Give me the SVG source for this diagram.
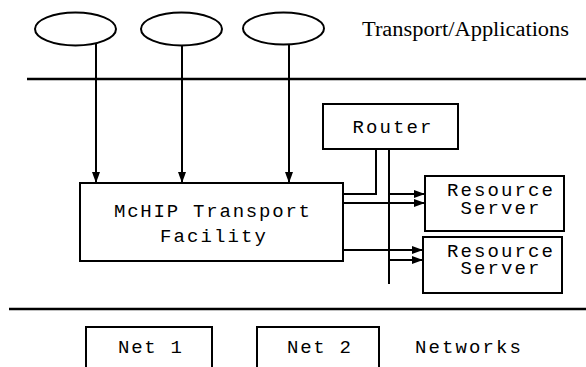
<svg xmlns="http://www.w3.org/2000/svg" width="586" height="367" viewBox="0 0 586 367">
  <defs>
    <style>
      .box { fill: #fff; stroke: #000; stroke-width: 2; }
      .app { fill: #fff; stroke: #000; stroke-width: 2; }
      .mono { font-family: "Liberation Mono", "Courier New", monospace; font-size: 19px; fill: #000; text-anchor: middle; }
      .serif { font-family: "Liberation Serif", "Times New Roman", serif; font-size: 20px; fill: #000; }
      .sep { stroke: #000; stroke-width: 2.5; }
      .wire { fill: none; stroke: #000; stroke-width: 2; }
      .arrow { fill: none; stroke: #000; stroke-width: 2; marker-end: url(#ah); }
    </style>
    <marker id="ah" markerWidth="11" markerHeight="8" refX="11" refY="4" orient="auto" markerUnits="userSpaceOnUse">
      <path d="M0,0 L11,4 L0,8 z" fill="#000"/>
    </marker>
  </defs>

  <rect width="586" height="367" fill="#fff"/>

  <!-- layer separators -->
  <g id="separators">
    <line class="sep" x1="27" y1="79" x2="586" y2="79"/>
    <line class="sep" x1="9" y1="309" x2="586" y2="309"/>
  </g>

  <!-- layer captions -->
  <text class="serif" x="362" y="36" textLength="207" lengthAdjust="spacingAndGlyphs">Transport/Applications</text>
  <text class="mono" x="468" y="353" textLength="106">Networks</text>

  <!-- applications -->
  <g id="app1"><ellipse class="app" cx="75.5" cy="29" rx="40.5" ry="16.5"/></g>
  <g id="app2"><ellipse class="app" cx="181.5" cy="29" rx="40.5" ry="16.5"/></g>
  <g id="app3"><ellipse class="app" cx="283.5" cy="28.5" rx="40.5" ry="16"/></g>

  <!-- transport facility -->
  <g id="mchip">
    <rect class="box" x="80" y="183" width="263" height="78"/>
    <text class="mono" x="212" y="217" textLength="196">McHIP Transport</text>
    <text class="mono" x="213" y="242" textLength="106">Facility</text>
  </g>

  <!-- router -->
  <g id="router">
    <rect class="box" x="323" y="104" width="135" height="45"/>
    <text class="mono" x="392" y="133" textLength="79">Router</text>
  </g>

  <!-- resource servers -->
  <g id="server1">
    <rect class="box" x="425" y="176" width="139" height="55"/>
    <text class="mono" x="500" y="196" textLength="106">Resource</text>
    <text class="mono" x="500" y="214" textLength="79">Server</text>
  </g>
  <g id="server2">
    <rect class="box" x="423" y="237" width="139" height="56"/>
    <text class="mono" x="500" y="257" textLength="106">Resource</text>
    <text class="mono" x="500" y="274" textLength="79">Server</text>
  </g>

  <!-- networks -->
  <g id="net1">
    <rect class="box" x="86" y="327" width="126" height="45"/>
    <text class="mono" x="150" y="353" textLength="64">Net 1</text>
  </g>
  <g id="net2">
    <rect class="box" x="257" y="327" width="122" height="45"/>
    <text class="mono" x="319" y="353" textLength="64">Net 2</text>
  </g>

  <!-- connectors -->
  <g id="connectors">
    <line class="arrow" x1="96" y1="44" x2="96" y2="183"/>
    <line class="arrow" x1="182" y1="45.5" x2="182" y2="183"/>
    <line class="arrow" x1="289" y1="44.5" x2="289" y2="183"/>

    <polyline class="wire" points="376,149 376,194 343,194"/>
    <line class="wire" x1="389" y1="149" x2="389" y2="284" stroke-width="1.6"/>

    <line class="arrow" x1="389" y1="194" x2="425" y2="194"/>
    <line class="arrow" x1="343" y1="203" x2="425" y2="203"/>
    <line class="arrow" x1="343" y1="250" x2="423" y2="250"/>
    <line class="arrow" x1="389" y1="260" x2="423" y2="260"/>
  </g>
</svg>
